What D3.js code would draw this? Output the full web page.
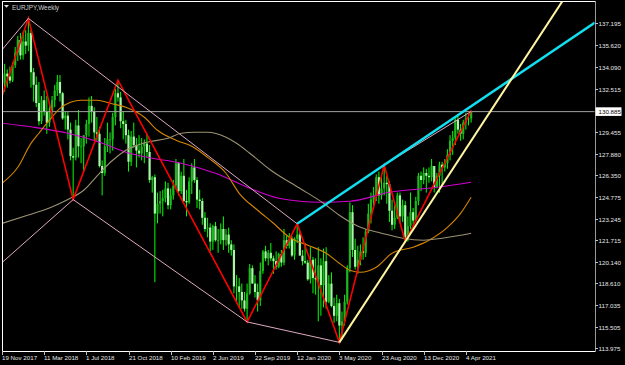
<!DOCTYPE html>
<html><head><meta charset="utf-8">
<script src="https://cdn.jsdelivr.net/npm/d3@7"></script>
<style>html,body{margin:0;padding:0;background:#000;overflow:hidden}</style>
</head><body><svg id="c" width="625" height="365"></svg>
<script>
// ---------- DATA ----------
const symbolTitle = "EURJPY,Weekly";
const startDate = "2017-11-19"; // first weekly bar (index 0)
// weekly candles [open, high, low, close], index 0 = 19 Nov 2017
const candles = [
[132.0,133.2,131.7,132.9],[132.9,134.3,132.3,133.6],[133.6,133.9,132.6,133.4],[133.4,134.1,132.9,133.1],
[133.1,134.4,133.0,134.2],[134.2,135.5,134.0,135.1],[135.1,136.3,134.5,136.0],[136.0,136.5,134.6,134.9],
[134.9,136.6,134.6,135.9],[135.9,136.7,135.0,135.6],[135.6,137.55,135.2,136.5],[136.5,136.7,132.6,133.7],
[133.7,134.0,131.6,132.8],[132.8,133.4,131.2,131.5],[131.5,133.0,129.9,130.2],[130.2,132.0,130.0,131.7],
[131.7,132.4,130.6,130.9],[130.9,132.0,129.3,130.1],[130.1,131.5,129.8,130.9],[130.9,132.0,130.5,131.7],
[131.7,132.8,131.2,132.4],[132.4,133.5,132.0,133.0],[133.0,133.5,131.6,132.2],[132.2,132.3,130.3,130.4],
[130.4,130.9,129.6,130.6],[130.6,130.9,128.9,129.6],[129.6,130.1,127.4,127.7],[127.7,128.3,124.6,127.6],
[127.6,130.3,127.4,129.9],[129.9,131.0,127.6,128.4],[128.4,129.0,127.2,128.4],[128.4,129.2,126.6,129.2],
[129.2,130.3,128.6,130.0],[130.0,131.9,129.1,131.3],[131.3,132.0,130.1,130.9],[130.9,131.2,128.8,129.4],
[129.4,130.5,128.8,129.3],[129.3,129.8,126.9,127.0],[127.0,127.4,124.9,126.5],[126.5,129.0,126.3,128.4],
[128.4,130.1,128.0,128.9],[128.9,129.4,127.9,128.9],[128.9,130.8,128.1,130.5],[130.5,132.5,129.9,132.2],
[132.2,133.13,131.6,131.9],[131.9,132.3,129.7,130.2],[130.2,130.9,128.9,130.0],[130.0,130.3,128.6,129.2],
[129.2,129.6,126.6,127.3],[127.3,129.5,127.0,129.1],[129.1,130.1,128.3,128.5],[128.5,129.0,126.9,128.1],
[128.1,129.2,127.6,127.9],[127.9,129.0,127.4,128.4],[128.4,128.9,127.2,128.6],[128.6,129.3,127.6,128.0],
[128.0,128.5,125.8,126.0],[126.0,126.3,125.1,126.2],[126.2,126.4,118.7,123.6],[123.6,125.1,122.9,124.3],
[124.3,125.2,123.6,124.5],[124.5,125.3,123.4,124.7],[124.7,125.9,124.4,125.4],[125.4,125.8,123.9,124.2],
[124.2,125.4,123.9,124.9],[124.9,126.0,124.6,125.6],[125.6,127.5,125.4,127.2],[127.2,127.3,124.9,125.2],
[125.2,126.6,125.0,126.3],[126.3,127.5,124.4,124.5],[124.5,125.3,123.4,124.4],[124.4,126.2,124.3,125.9],
[125.9,127.2,125.0,126.9],[126.9,127.5,125.8,126.0],[126.0,126.2,124.0,124.6],[124.6,125.3,123.9,124.5],
[124.5,124.7,122.8,123.3],[123.3,123.7,122.3,122.5],[122.5,123.3,121.9,122.6],[122.6,122.9,120.9,121.6],
[121.6,122.8,121.0,122.7],[122.7,123.0,121.6,121.7],[121.7,122.5,120.8,121.7],[121.7,122.9,121.4,122.5],
[122.5,123.4,121.0,121.7],[121.7,122.5,121.3,122.1],[122.1,122.6,120.8,121.4],[121.4,121.7,120.6,121.0],
[121.0,121.4,117.9,118.4],[118.4,119.2,117.2,118.4],[118.4,119.0,116.9,118.0],[118.0,118.6,116.8,117.4],
[117.4,118.0,116.6,116.8],[116.8,118.6,115.86,117.9],[117.9,120.0,117.8,119.7],[119.7,119.9,118.6,118.6],
[118.6,119.2,117.6,118.0],[118.0,118.6,116.6,117.4],[117.4,120.1,117.0,119.5],[119.5,121.0,119.3,120.9],
[120.9,121.3,120.2,120.4],[120.4,121.0,119.9,120.8],[120.8,121.5,120.2,120.4],[120.4,120.6,119.3,120.2],
[120.2,120.9,119.6,119.8],[119.8,120.8,119.7,120.7],[120.7,121.0,119.8,120.1],[120.1,122.5,119.9,121.7],
[121.7,122.0,121.1,121.3],[121.3,122.2,121.1,121.8],[121.8,122.0,120.5,120.6],[120.6,121.9,120.3,121.8],
[121.8,122.87,121.5,122.1],[122.1,122.4,120.6,120.6],[120.6,121.0,119.9,120.2],[120.2,121.5,120.0,120.1],
[120.1,120.3,118.8,118.9],[118.9,121.2,118.6,120.3],[120.3,120.5,117.9,119.0],[119.0,120.4,117.8,118.9],
[118.9,121.2,115.9,119.9],[119.9,120.4,116.3,118.5],[118.5,121.1,116.9,120.2],[120.2,121.2,116.8,117.3],
[117.3,119.2,117.2,118.6],[118.6,119.4,116.9,117.0],[117.0,117.6,115.8,116.3],[116.3,117.8,115.9,117.2],
[117.2,117.5,114.4,115.6],[115.6,116.6,114.6,115.9],[115.9,117.8,115.6,117.3],[117.3,119.9,117.1,119.7],
[119.7,124.4,119.4,123.7],[123.7,124.2,120.5,121.0],[121.0,121.8,119.6,119.8],[119.8,121.3,119.3,120.3],
[120.3,121.4,119.9,120.9],[120.9,121.9,120.3,120.8],[120.8,122.5,120.5,122.3],[122.3,124.3,122.2,123.6],
[123.6,125.1,122.9,124.6],[124.6,125.5,123.9,124.9],[124.9,126.4,124.5,126.2],[126.2,126.6,124.3,124.9],
[124.9,126.3,124.6,125.4],[125.4,127.07,124.9,125.8],[125.8,126.3,124.3,125.7],[125.7,125.9,123.0,123.8],
[123.8,124.6,122.4,122.8],[122.8,124.2,122.5,123.3],[123.3,125.1,123.2,124.9],[124.9,125.1,122.9,123.4],
[123.4,124.6,123.0,124.2],[124.2,124.5,121.6,121.9],[121.9,123.4,121.6,122.7],[122.7,125.1,122.5,123.7],
[123.7,124.0,122.8,123.1],[123.1,124.8,123.0,124.5],[124.5,126.5,124.2,126.3],[126.3,126.6,125.2,126.0],
[126.0,126.9,125.7,126.5],[126.5,126.8,125.1,126.3],[126.3,126.9,125.8,126.2],[126.2,127.5,125.9,127.0],
[127.0,127.0,125.1,125.5],[125.5,126.5,125.4,126.3],[126.3,127.3,125.1,127.1],[127.1,127.3,125.6,126.9],
[126.9,127.5,126.6,127.2],[127.2,128.2,126.8,127.8],[127.8,129.2,127.4,128.8],[128.8,129.5,127.8,129.0],
[129.0,130.4,128.5,130.3],[130.3,130.7,129.3,129.6],[129.6,130.0,128.8,129.3],[129.3,130.3,128.9,130.1],
[130.1,130.8,129.6,130.4],[130.4,130.7,129.9,130.4],[130.4,130.95,130.1,130.885]
];
const xTickIdx = [0,16,32,48,64,80,96,112,128,144,160,176];
const xTickLabels = ["19 Nov 2017","11 Mar 2018","1 Jul 2018","21 Oct 2018","10 Feb 2019","2 Jun 2019",
  "22 Sep 2019","12 Jan 2020","3 May 2020","23 Aug 2020","13 Dec 2020","4 Apr 2021"];
const yTicks = [137.195,135.620,134.090,132.515,129.455,127.880,126.350,124.775,123.245,121.715,120.140,118.610,117.035,115.505,113.975];
const lastPrice = 130.885;
// moving averages, [bar index, price]
const maMagenta = [[0,130.05],[12,129.77],[25,129.34],[37,128.7],[47,127.98],[55,127.62],[68,127.2],[81,126.48],
  [94,125.41],[105,124.7],[121,124.41],[132,124.48],[147,125.12],[165,125.48],[178,125.84]];
const maOrange = [[0,125.77],[6,126.91],[11,128.62],[14,129.34],[18,130.27],[22,131.12],[26,131.55],[30,131.7],
  [36,131.7],[41,131.48],[47,131.19],[54,130.48],[59,129.55],[66,128.84],[72,128.41],[78,127.62],[85,126.48],
  [90,125.05],[97,123.84],[103,122.91],[109,121.91],[116,121.34],[123,120.77],[128,120.05],[132,119.55],
  [136,119.41],[142,119.77],[148,120.77],[156,121.2],[162,121.7],[169,122.62],[174,123.62],[178,124.77]];
const maOlive = [[0,122.9],[10,123.5],[18,124.0],[25,124.6],[31,125.27],[37,126.48],[42,127.41],[47,128.12],
  [55,128.7],[63,128.98],[68,129.34],[73,129.41],[78,129.41],[85,129.05],[89,128.62],[94,127.91],[102,126.7],
  [113,125.41],[122,124.34],[128,123.48],[136,122.62],[144,122.2],[152,121.84],[160,121.7],[167,121.84],
  [174,122.05],[178,122.2]];
const zigzag = [[0,132.0],[10,137.55],[27,124.6],[44,133.13],[93,115.86],[112,122.87],[128,114.4],[145,127.07],[153,121.6],[178,130.95]];
const pinkLines = [
  [[0,135.3],[10,137.55]], [[10,137.55],[112,122.87]], [[0,120.1],[27,124.6]],
  [[27,124.6],[93,115.86]], [[93,115.86],[128,114.4]], [[145,127.07],[178,130.9]]
];
const cyanLine = [[112,122.87],[145,127.07]];   // extended to right edge
const yellowLine = [[128,114.4],[153,121.6]];   // extended upward

// ---------- LAYOUT ----------
const L = 2, T = 1, R = 595, B = 351;
const svg = d3.select("#c");
svg.append("rect").attr("width",625).attr("height",365).attr("fill","#000");
const x = d3.scaleLinear().domain([0,225]).range([L,R]);
const y = d3.scaleLinear().domain([113.975,137.195]).range([348.3,23.3]);

svg.append("clipPath").attr("id","plot").append("rect")
  .attr("x",L+0.5).attr("y",T+0.5).attr("width",R-L-1).attr("height",B-T-1);
const g = svg.append("g").attr("clip-path","url(#plot)");

const lineGen = d3.line().x(d=>x(d[0])).y(d=>y(d[1]));
const curveGen = d3.line().x(d=>x(d[0])).y(d=>y(d[1])).curve(d3.curveMonotoneX);

// candles
const cg = g.append("g");
candles.forEach((c,i)=>{
  const [o,h,l,cl] = c; const cx = x(i);
  cg.append("line").attr("x1",cx).attr("x2",cx).attr("y1",y(h)).attr("y2",y(l))
    .attr("stroke","#00ff00").attr("stroke-width",1);
  const top = y(Math.max(o,cl)), bot = y(Math.min(o,cl));
  cg.append("rect").attr("x",cx-1.1).attr("width",2.2).attr("y",top).attr("height",Math.max(0.8,bot-top))
    .attr("fill", cl>=o ? "#1cb81c" : "#a6f8a6");
});

// current price line
g.append("line").attr("x1",L).attr("x2",R).attr("y1",y(lastPrice)).attr("y2",y(lastPrice))
  .attr("stroke","#a0a0a0").attr("stroke-width",1);

// moving averages
[[maMagenta,"#d000d0"],[maOrange,"#d48400"],[maOlive,"#9a9270"]].forEach(([d,col])=>{
  g.append("path").attr("d",curveGen(d)).attr("fill","none").attr("stroke",col).attr("stroke-width",1.1);
});

// zigzag
g.append("path").attr("d",lineGen(zigzag)).attr("fill","none").attr("stroke","#ff0000").attr("stroke-width",1.6);

// pink trend lines
pinkLines.forEach(seg=>{
  g.append("path").attr("d",lineGen(seg)).attr("fill","none").attr("stroke","#dcaac2").attr("stroke-width",1);
});

function extend(seg, toIdx){
  const [[i0,p0],[i1,p1]] = seg; const s = (p1-p0)/(i1-i0);
  return [[i0,p0],[toIdx, p0 + s*(toIdx-i0)]];
}
g.append("path").attr("d",lineGen(extend(cyanLine,225))).attr("fill","none")
  .attr("stroke","#10e0f0").attr("stroke-width",2.4);
g.append("path").attr("d",lineGen(extend(yellowLine,225))).attr("fill","none")
  .attr("stroke","#fff5a0").attr("stroke-width",2);

// frame
svg.append("line").attr("x1",L+0.5).attr("x2",L+0.5).attr("y1",T).attr("y2",B).attr("stroke","#fff");
svg.append("line").attr("x1",L).attr("x2",R).attr("y1",T+0.5).attr("y2",T+0.5).attr("stroke","#fff");
svg.append("line").attr("x1",L).attr("x2",R+0.5).attr("y1",B+0.5).attr("y2",B+0.5).attr("stroke","#fff");
svg.append("line").attr("x1",R+0.5).attr("x2",R+0.5).attr("y1",T).attr("y2",B+1).attr("stroke","#9a9a9a");

// y axis
const font = "'Liberation Sans', Arial, sans-serif";
yTicks.forEach(v=>{
  const yy = Math.round(y(v))+0.5;
  svg.append("line").attr("x1",R).attr("x2",R+3).attr("y1",yy).attr("y2",yy).attr("stroke","#c0c0c0");
  svg.append("text").attr("x",598.5).attr("y",yy+2.3).text(v.toFixed(3))
    .attr("fill","#e6e6e6").attr("font-family",font).attr("font-size",6.2);
});
// last price box
const ly = y(lastPrice);
svg.append("rect").attr("x",595.5).attr("y",ly-4.3).attr("width",26).attr("height",8.6).attr("fill","#fff");
svg.append("text").attr("x",598.5).attr("y",ly+2.3).text(lastPrice.toFixed(3))
  .attr("fill","#000").attr("font-family",font).attr("font-size",6.2);

// x axis
xTickIdx.forEach((idx,k)=>{
  const xx = Math.round(x(idx))+0.5;
  svg.append("line").attr("x1",xx).attr("x2",xx).attr("y1",B).attr("y2",B+4).attr("stroke","#c0c0c0");
  svg.append("text").attr("x",xx-0.5).attr("y",359.5).text(xTickLabels[k])
    .attr("fill","#e6e6e6").attr("font-family",font).attr("font-size",6.2);
});

// title
svg.append("path").attr("d","M4,5 L9,5 L6.5,7.8 Z").attr("fill","#e0e0e0");
svg.append("text").attr("x",12).attr("y",9.5).text(symbolTitle)
  .attr("fill","#cfcfcf").attr("font-family",font).attr("font-size",6.4);
</script></body></html>
